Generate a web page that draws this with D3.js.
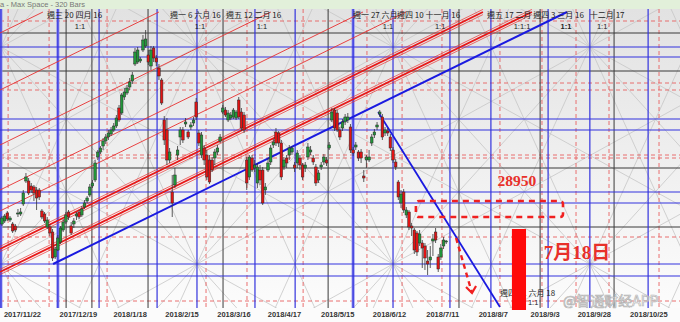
<!DOCTYPE html>
<html>
<head>
<meta charset="utf-8">
<script src="https://cdn.jsdelivr.net/npm/d3@7"></script>
<style>
  body { margin: 0; background: #fff; }
  svg { display: block; }
</style>
</head>
<body>
<svg id="chart" width="680" height="322"></svg>
<script>
// daily candles (index 0 = first bar on the left)
var open = [29000,29075,29275,29100,29000,28950,29250,29250,29500,30075,
  30075,29950,29925,29850,29850,29325,29250,28925,28925,28800,
  28175,28350,28550,28850,29050,29300,28950,29000,29200,29300,
  29225,29425,29575,29725,29950,30100,30675,30800,30950,31075,
  31175,31250,31350,31450,31900,31775,32175,32275,32425,32575,
  33000,33050,33075,33350,33450,33225,32950,33400,33150,32900,
  32600,31600,31350,30600,29800,29975,30725,31175,31350,31500,
  31300,31425,31525,32050,31275,30725,30900,30725,30600,30600,
  30650,30800,31075,31800,31850,31600,31650,31675,31650,32100,
  31800,31725,30600,30175,30650,30400,30025,30350,30350,29850,
  30350,30550,30975,31300,31275,31025,30425,30650,30725,30800,
  30475,30525,30650,30475,30400,30675,30800,30650,30425,30100,
  30425,30550,30600,30900,31600,31850,31775,31350,31400,31550,
  31600,31425,30850,30925,30800,30800,30200,30600,30600,31025,
  31225,31425,31750,31675,31275,31325,31175,30850,30550,30050,
  29525,29800,29225,29300,28950,28850,28775,28525,28525,28450,
  28075,28100,28575,28800,28175,28175,28450,28550];
var high = [29200,29250,29325,29200,29050,29000,29375,29400,29850,30275,
  30150,30025,29975,29925,29900,29375,29300,29175,29000,28875,
  28425,28725,28950,29125,29300,29350,29050,29150,29300,29350,
  29450,29600,29700,30000,30100,30600,30850,30950,31150,31250,
  31350,31425,31525,31725,31975,32275,32400,32475,32650,32800,
  33400,33425,33175,33725,33850,33350,33450,33450,33225,33000,
  32650,31700,31650,30900,30225,30400,30950,31425,31425,31650,
  31350,31550,31675,32150,31350,31300,30975,30850,30725,30675,
  30875,30975,31250,31975,31925,31850,31800,31900,31850,32175,
  31900,31800,30675,30725,30725,30600,30525,30475,30425,30025,
  30650,30975,31125,31400,31325,31100,30675,30725,30975,30950,
  30550,30850,30725,30525,30550,31025,30950,30725,30500,30350,
  30550,30750,30675,31050,31900,31900,31850,31425,31625,31750,
  31775,31500,30925,31050,30850,30875,30350,30725,30850,31250,
  31375,31550,31850,31750,31425,31400,31250,30925,30625,30100,
  29850,29875,29425,29350,29025,28900,28825,28850,28600,28525,
  28350,28450,28750,28900,28250,28500,28675,28600];
var low = [28950,29025,29075,29050,28775,28800,29175,29200,29450,30025,
  29725,29775,29575,29350,29600,29125,29025,28875,28700,28075,
  28125,28325,28500,28800,29000,29100,28725,28900,29100,29125,
  29175,29375,29525,29675,29900,30050,30600,30750,30850,31000,
  31100,31200,31300,31400,31550,31725,32100,32225,32350,32500,
  32950,33000,33025,33300,33400,32975,32850,33050,32950,32600,
  31975,30975,30475,30525,29175,29900,30600,30975,31025,31425,
  31125,31350,31450,31600,30950,30650,30475,30100,30000,30300,
  30475,30725,31025,31750,31675,31550,31600,31625,31600,31625,
  31325,31275,29850,30100,30300,30300,29900,29975,29475,29725,
  30300,30475,30900,30950,30925,30100,30350,30400,30600,30725,
  30300,30400,30350,30100,30300,30600,30725,30475,29950,30025,
  30350,30475,30450,30850,31550,31325,31300,31100,31325,31475,
  31525,30775,30700,30850,30575,30525,30050,30400,30550,30950,
  31150,31350,31675,31100,31200,31200,30825,30525,30350,29600,
  29400,29275,29150,28850,28700,28250,28200,28450,27900,27850,
  27725,27900,28200,28525,27800,28100,28375,28500];
var close = [29150,29200,29125,29150,28825,28850,29275,29300,29775,30175,
  29775,29850,29775,29650,29675,29175,29075,29100,28775,28150,
  28375,28650,28900,29050,29225,29175,28775,29075,29250,29175,
  29375,29525,29650,29925,30025,30525,30800,30900,31075,31175,
  31275,31350,31450,31650,31600,32225,32300,32400,32550,32725,
  33300,33350,33125,33600,33625,33050,33350,33150,33050,32700,
  32025,31100,30600,30800,29525,30225,30850,31350,31100,31550,
  31175,31475,31600,31675,31025,31225,30600,30175,30050,30350,
  30800,30900,31175,31900,31725,31775,31725,31850,31800,31675,
  31400,31350,30025,30675,30350,30475,30425,30100,29525,29925,
  30525,30900,31050,31025,31025,30175,30600,30525,30900,30900,
  30400,30775,30475,30175,30475,30925,30850,30550,30025,30275,
  30475,30675,30525,30975,31800,31400,31350,31175,31550,31675,
  31675,30850,30775,30975,30650,30650,30150,30675,30675,31175,
  31300,31475,31800,31175,31350,31275,30900,30600,30425,29675,
  29750,29350,29350,28925,28900,28350,28300,28750,28400,28150,
  28000,28175,28625,28600,27875,28400,28600,28575];

// x axis
var tickBars = [7.5, 28.5, 48, 67.5, 87, 106, 126, 145.5, 165.5, 184.5, 204, 222.5, 243];
var tickLabels = ["2017/11/22", "2017/12/19", "2018/1/18", "2018/2/15", "2018/3/16", "2018/4/17",
  "2018/5/15", "2018/6/12", "2018/7/11", "2018/8/7", "2018/9/3", "2018/9/28", "2018/10/25"];

// gann grid (bar index / price level)
var blueCols = [-0.4, 21, 36.5, 58.3, 73.3, 95.1, 110.2, 132, 147, 168.4, 183.8, 205.3, 221, 242.9];
var wideBlueCols = [-0.4, 21, 132];
var blackCols = [24.1, 33.8, 54.9, 83.1, 122.6, 171.8, 202.3, 230.1];
var redCols = [2.3, 17.7, 39.5, 76.7, 92.1, 113.2, 137.2, 150.4, 165.4, 187.2, 203, 215.8, 228.2, 247];
var blueRows = [33425, 33175, 31625, 31350, 29800, 29525, 28000, 27700];
var blackRows = [33775, 32825, 30400, 28925];
var redRows = [34075, 32525, 32350, 30725, 30650, 28675, 27075];
var latticeBars = [-0.4, 73.3, 147, 221, 295];
var latticePrices = [38850, 33425, 28000, 22575];

// trend lines
var redBundles = [[[-0.75, 28375], [180.8, 34300]], [[-0.75, 27800], [199.2, 34300]]];
var thinRed = [[[-0.75, 33775], [15.4, 34300]], [[-0.75, 32350], [59, 34300]], [[-0.75, 30975], [101.1, 34300]],
  [[-0.75, 29850], [135.7, 34300]], [[-0.75, 29325], [151.9, 34300]]];
var blueUp = [[19.2, 28000], [212.4, 34300]];
var blueDown = [[141.4, 31800], [187.2, 26925]];

// time labels along the top
var topLabels = ["週三 20 四月 16", "週一 6 六月 16", "週五 12 二月 16", "週一 27 六月", "週四 10 十一月 16",
  "週五 17 二月 週四 3 三月 16", "十二月 17"];
var topLabelBars = [16.9, 63.2, 84.2, 132, 148.5, 182.3, 221];
var ratioLabels = ["1:1", "1:1", "1:1", "1:1", "1:1", "1:1:1", "1:1", "1:1"];
var ratioBars = [29.3, 74.4, 97.7, 145.1, 164.7, 195.5, 212, 225.6];

// annotations
var targetPrice = "28950";
var targetBox = {bars: [155.6, 210.9], prices: [29575, 29175]};
var dayLabel = "7月18日";
var dayBar = {bars: [191.7, 197], prices: [28875, 26850]};
var arrowPath = [[170.7, 28650], [176.7, 27275]];

var svg = d3.select('#chart');
var x = d3.scaleLinear().domain([0, 255]).range([2, 680.3]);
var y = d3.scaleLinear().domain([34350, 26950]).range([10, 306]);

var defs = svg.append('defs');
var grad = defs.append('linearGradient').attr('id', 'bg').attr('x1', 0).attr('y1', 0).attr('x2', 0).attr('y2', 1);
grad.append('stop').attr('offset', '0%').attr('stop-color', '#e2e2e2');
grad.append('stop').attr('offset', '100%').attr('stop-color', '#fcfcfc');
defs.append('clipPath').attr('id', 'plot').append('rect')
  .attr('x', 0).attr('y', 9).attr('width', 680).attr('height', 299);

// background + header band
svg.append('rect').attr('width', 680).attr('height', 322).attr('fill', '#fbfbfb');
svg.append('rect').attr('y', 9).attr('width', 680).attr('height', 299).attr('fill', 'url(#bg)');
svg.append('rect').attr('width', 680).attr('height', 9).attr('fill', '#e2f0da');
svg.append('text').attr('x', 0).attr('y', 7).attr('font-family', 'Liberation Sans, sans-serif')
  .attr('font-size', 7.5).attr('fill', '#777').text('a - Max Space - 320 Bars');

var g = svg.append('g').attr('clip-path', 'url(#plot)');

// gray gann squares
var lattice = g.append('g').attr('stroke', '#c6c6c6').attr('stroke-width', 0.8).attr('fill', 'none');
for (var i = 0; i < latticeBars.length - 1; i++) {
  for (var j = 0; j < latticePrices.length - 1; j++) {
    var x0 = x(latticeBars[i]), x1 = x(latticeBars[i + 1]), xm = (x0 + x1) / 2;
    var y0 = y(latticePrices[j]), y1 = y(latticePrices[j + 1]), ym = (y0 + y1) / 2;
    var segs = [[x0, y0, x1, y1], [x0, y1, x1, y0],
      [x0, y0, x1, ym], [x0, y0, xm, y1], [x1, y0, x0, ym], [x1, y0, xm, y1],
      [x0, y1, x1, ym], [x0, y1, xm, y0], [x1, y1, x0, ym], [x1, y1, xm, y0]];
    segs.forEach(function (s) {
      lattice.append('line').attr('x1', s[0]).attr('y1', s[1]).attr('x2', s[2]).attr('y2', s[3]);
    });
  }
}

// grid lines
function vlines(cols, color, width, dash) {
  g.append('g').selectAll('line').data(cols).join('line')
    .attr('x1', function (d) { return x(d); }).attr('x2', function (d) { return x(d); })
    .attr('y1', 9).attr('y2', 308)
    .attr('stroke', color).attr('stroke-width', width).attr('stroke-dasharray', dash);
}
function hlines(rows, color, width, dash) {
  g.append('g').selectAll('line').data(rows).join('line')
    .attr('x1', 0).attr('x2', 680)
    .attr('y1', function (d) { return y(d); }).attr('y2', function (d) { return y(d); })
    .attr('stroke', color).attr('stroke-width', width).attr('stroke-dasharray', dash);
}
vlines(redCols, '#e86060', 0.9, '4,3');
hlines(redRows, '#e86060', 0.9, '4,3');
vlines(blackCols, '#3a3a3a', 1, null);
hlines(blackRows, '#3a3a3a', 1, null);
vlines(wideBlueCols, '#8c8cf0', 3, null);
vlines(blueCols, '#3333dd', 1.2, null);
hlines(blueRows, '#3333dd', 1.2, null);

// trend lines
function seg(sel, p) {
  return sel.append('line')
    .attr('x1', x(p[0][0])).attr('y1', y(p[0][1]))
    .attr('x2', x(p[1][0])).attr('y2', y(p[1][1]));
}
thinRed.forEach(function (p) { seg(g, p).attr('stroke', '#e83030').attr('stroke-width', 0.9); });
redBundles.forEach(function (p) {
  seg(g, p).attr('stroke', '#e83030').attr('stroke-width', 0.7).attr('transform', 'translate(0,-2.6)');
  seg(g, p).attr('stroke', '#e81818').attr('stroke-width', 1.8);
  seg(g, p).attr('stroke', '#e83030').attr('stroke-width', 0.7).attr('transform', 'translate(0,2.6)');
});
seg(g, blueUp).attr('stroke', '#1a1ae0').attr('stroke-width', 2);
seg(g, blueDown).attr('stroke', '#1a1ae0').attr('stroke-width', 1.8);

// candles
var bars = d3.range(open.length);
var cg = g.append('g');
cg.selectAll('line.wick').data(bars).join('line').attr('class', 'wick')
  .attr('x1', function (i) { return x(i); }).attr('x2', function (i) { return x(i); })
  .attr('y1', function (i) { return y(high[i]); }).attr('y2', function (i) { return y(low[i]); })
  .attr('stroke', '#333').attr('stroke-width', 0.8);
cg.selectAll('rect').data(bars).join('rect')
  .attr('x', function (i) { return x(i) - 1.3; })
  .attr('width', 2.6)
  .attr('y', function (i) { return y(Math.max(open[i], close[i])); })
  .attr('height', function (i) { return Math.max(1, Math.abs(y(open[i]) - y(close[i]))); })
  .attr('fill', function (i) { return close[i] >= open[i] ? '#22963a' : '#e01414'; })
  .attr('stroke', '#2a2a2a').attr('stroke-width', 0.5);

// top time labels
var lab = svg.append('g').attr('fill', '#222');
lab.selectAll('text.t').data(topLabels).join('text').attr('class', 't')
  .attr('font-family', 'Noto Sans CJK TC, sans-serif').attr('font-size', 8)
  .attr('x', function (d, i) { return x(topLabelBars[i]); }).attr('y', 18).text(function (d) { return d; });
lab.selectAll('text.r').data(ratioBars).join('text').attr('class', 'r')
  .attr('font-family', 'Liberation Sans, sans-serif').attr('font-size', 7.5)
  .attr('x', function (d) { return x(d); }).attr('y', 28.5).attr('text-anchor', 'middle')
  .attr('font-weight', function (d, i) { return i === 6 ? 'bold' : null; })
  .text(function (d, i) { return ratioLabels[i]; });

// x axis labels
var axis = d3.axisBottom(x).tickValues(tickBars).tickSize(0)
  .tickFormat(function (d, i) { return tickLabels[i]; });
var ax = svg.append('g').attr('transform', 'translate(0,309)').call(axis);
ax.select('.domain').remove();
ax.selectAll('text').attr('font-family', 'Liberation Sans, sans-serif').attr('font-size', 7.5)
  .attr('font-weight', 'bold').attr('fill', '#333').attr('dy', '0.71em');

// annotations
var an = svg.append('g');
an.append('rect')
  .attr('x', x(targetBox.bars[0])).attr('y', y(targetBox.prices[0]))
  .attr('width', x(targetBox.bars[1]) - x(targetBox.bars[0]))
  .attr('height', y(targetBox.prices[1]) - y(targetBox.prices[0]))
  .attr('rx', 3).attr('fill', 'none').attr('stroke', '#f02020').attr('stroke-width', 2.6)
  .attr('stroke-dasharray', '6,5');
an.append('text').attr('x', x(193.6)).attr('y', y(29950)).attr('text-anchor', 'middle')
  .attr('font-family', 'Liberation Serif, serif').attr('font-weight', 'bold').attr('font-size', 15.5)
  .attr('fill', '#e8302a').text(targetPrice);
an.append('text').attr('x', x(216.2)).attr('y', y(28125)).attr('text-anchor', 'middle')
  .attr('font-family', 'Liberation Serif, Noto Sans CJK SC, serif').attr('font-weight', 'bold').attr('font-size', 19)
  .attr('fill', '#e8302a').text(dayLabel);

var ax0 = x(arrowPath[0][0]), ay0 = y(arrowPath[0][1]), ax1 = x(arrowPath[1][0]), ay1 = y(arrowPath[1][1]);
an.append('line').attr('x1', ax0).attr('y1', ay0).attr('x2', ax1).attr('y2', ay1)
  .attr('stroke', '#f02020').attr('stroke-width', 2.4).attr('stroke-dasharray', '5,4');
an.append('path').attr('d', 'M' + (ax1 - 6) + ',' + (ay1 - 6) + 'L' + ax1 + ',' + ay1 + 'L' + (ax1 + 4) + ',' + (ay1 - 7))
  .attr('fill', 'none').attr('stroke', '#f02020').attr('stroke-width', 2.2);

an.append('text').attr('x', x(187.2)).attr('y', y(27200)).attr('font-family', 'Noto Sans CJK TC, sans-serif')
  .attr('font-size', 8).attr('fill', '#222').text('週四 21 六月 18');
an.append('text').attr('x', x(197.7)).attr('y', y(26975)).attr('font-family', 'Liberation Sans, sans-serif')
  .attr('font-size', 7.5).attr('fill', '#222').text('1:1');

an.append('rect').attr('x', x(dayBar.bars[0])).attr('y', y(dayBar.prices[0]))
  .attr('width', x(dayBar.bars[1]) - x(dayBar.bars[0]))
  .attr('height', y(dayBar.prices[1]) - y(dayBar.prices[0])).attr('fill', '#ff0a0a');

// watermark
an.append('text').attr('x', 563).attr('y', 306).attr('font-family', 'Noto Sans CJK SC, sans-serif')
  .attr('font-size', 14).attr('fill', 'rgba(255,255,255,0.55)').attr('stroke', '#b4b4b4')
  .attr('stroke-width', 0.7).text('@智通财经APP');
</script>
</body>
</html>
